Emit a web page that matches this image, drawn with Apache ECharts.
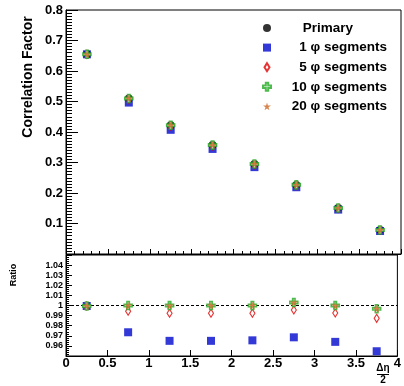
<!DOCTYPE html>
<html>
<head>
<meta charset="utf-8">
<script src="https://cdn.jsdelivr.net/npm/echarts@6/dist/echarts.min.js"></script>
<style>html,body{margin:0;padding:0;background:#fff}#c{width:404px;height:386px}</style>
</head>
<body>
<div id="c"></div>
<script>
const xCenters = [0.25, 0.75, 1.25, 1.75, 2.25, 2.75, 3.25, 3.75];
const primary = [0.655, 0.510, 0.422, 0.357, 0.295, 0.226, 0.151, 0.079];
const seg1 = [0.6547, 0.4965, 0.4072, 0.3445, 0.2848, 0.2189, 0.1456, 0.0754];
const seg5 = [0.6547, 0.5071, 0.4188, 0.3543, 0.2927, 0.2250, 0.1499, 0.0780];
const seg10 = [0.6547, 0.5100, 0.4220, 0.3570, 0.2950, 0.2267, 0.1510, 0.0787];
const seg20 = [0.6547, 0.5100, 0.4220, 0.3570, 0.2950, 0.2267, 0.1510, 0.0787];
const ratio1 = [0.9995, 0.9735, 0.9650, 0.9650, 0.9655, 0.9685, 0.9640, 0.9547];
const ratio5 = [0.9995, 0.9943, 0.9923, 0.9923, 0.9923, 0.9955, 0.9926, 0.9873];
const ratio10 = [0.9995, 1.0000, 1.0000, 1.0000, 1.0000, 1.0030, 1.0000, 0.9968];
const ratio20 = [0.9995, 1.0000, 1.0000, 1.0000, 1.0000, 1.0030, 1.0000, 0.9968];
const seriesNames = ['Primary', '1 φ segments', '5 φ segments', '10 φ segments', '20 φ segments'];
const xTicks = [0, 0.5, 1, 1.5, 2, 2.5, 3, 3.5, 4];

const FONT = 'Liberation Sans, Arial, sans-serif';
const pts = arr => arr.map((v, i) => [xCenters[i], v]);

const STAR = 'path://M50,0L61,35L98,35L68,57L79,91L50,70L21,91L32,57L2,35L39,35Z';
const PLUS = 'path://M35,0H65V35H100V65H65V100H35V65H0V35H35Z';
const DIAM = 'path://M5,0L10,8L5,16L0,8Z';

const styles = [
  {symbol: 'circle', symbolSize: 8, itemStyle: {color: '#000'}},
  {symbol: 'rect', symbolSize: 8, itemStyle: {color: '#0008cc'}},
  {symbol: DIAM, symbolSize: [5, 8], itemStyle: {color: '#fff', borderColor: '#e00000', borderWidth: 1.2}},
  {symbol: PLUS, symbolSize: 8, itemStyle: {color: '#fff', borderColor: '#22aa22', borderWidth: 1.6}},
  {symbol: STAR, symbolSize: 8, itemStyle: {color: '#cc6622'}}
];
const topData = [primary, seg1, seg5, seg10, seg20];
const botData = [null, ratio1, ratio5, ratio10, ratio20];

const series = [];
topData.forEach((d, i) => {
  series.push(Object.assign({
    name: seriesNames[i], type: 'scatter', xAxisIndex: 0, yAxisIndex: 0,
    data: pts(d), z: 3 + i
  }, styles[i]));
});
series.push({
  name: 'ref', type: 'line', xAxisIndex: 1, yAxisIndex: 1, symbol: 'none',
  data: [[xTicks[0], 1], [xTicks[xTicks.length - 1], 1]],
  lineStyle: {color: '#000', width: 1, type: [3, 2]}, z: 2, silent: true
});
botData.forEach((d, i) => {
  if (!d) return;
  series.push(Object.assign({
    name: seriesNames[i], type: 'scatter', xAxisIndex: 1, yAxisIndex: 1,
    data: pts(d), z: 3 + i
  }, styles[i]));
});

const lblBold = {fontFamily: FONT, fontWeight: 'bold', color: '#000'};

const option = {
  animation: false,
  backgroundColor: '#fff',
  grid: [
    {left: 66, top: 10, width: 335, height: 244, show: true, borderColor: '#000', borderWidth: 1, backgroundColor: 'transparent'},
    {left: 66, top: 255, width: 335, height: 101, show: true, borderColor: '#000', borderWidth: 1, backgroundColor: 'transparent'}
  ],
  legend: {
    data: seriesNames,
    orient: 'vertical',
    left: 257, top: 16,
    itemWidth: 8, itemHeight: 8, itemGap: 5.6,
    textStyle: {
      fontFamily: FONT, fontWeight: 'bold', fontSize: 13.5, color: '#000', lineHeight: 14,
      rich: {
        r: {fontFamily: FONT, fontWeight: 'bold', fontSize: 13.5, width: 111, align: 'right', lineHeight: 14},
        s: {width: 26.7, fontSize: 13.5, lineHeight: 14},
        p: {fontFamily: FONT, fontWeight: 'bold', fontSize: 13.5, lineHeight: 14}
      }
    },
    formatter: name => name === 'Primary' ? '{s| }{p|' + name + '}' : '{r|' + name + '}',
    selectedMode: false
  },
  xAxis: [
    {
      type: 'value', gridIndex: 0, min: 0, max: 4, interval: 0.5,
      axisLine: {show: true, lineStyle: {color: '#000'}},
      axisTick: {show: true, inside: true, length: 5, lineStyle: {color: '#000'}},
      minorTick: {show: true, splitNumber: 5, length: 3, lineStyle: {color: '#000'}},
      axisLabel: {show: false},
      splitLine: {show: false}
    },
    {
      type: 'value', gridIndex: 1, min: 0, max: 4, interval: 0.5,
      axisLine: {show: true, lineStyle: {color: '#000'}},
      axisTick: {show: true, inside: true, length: 6, lineStyle: {color: '#000'}},
      axisLabel: Object.assign({fontSize: 13, margin: 1}, lblBold),
      splitLine: {show: false}
    }
  ],
  yAxis: [
    {
      type: 'value', gridIndex: 0, min: 0, max: 0.8, interval: 0.1,
      axisLine: {show: true, lineStyle: {color: '#000'}},
      axisTick: {show: true, inside: true, length: 12, lineStyle: {color: '#000'}},
      minorTick: {show: true, splitNumber: 10, length: 6, lineStyle: {color: '#000'}},
      axisLabel: Object.assign({fontSize: 13, margin: 3, showMinLabel: false}, lblBold),
      splitLine: {show: false}
    },
    {
      type: 'value', gridIndex: 1, min: 0.95, max: 1.05, interval: 0.01,
      axisLine: {show: true, lineStyle: {color: '#000'}},
      axisTick: {show: true, inside: true, length: 6, lineStyle: {color: '#000'}},
      minorTick: {show: true, splitNumber: 5, length: 3, lineStyle: {color: '#000'}},
      axisLabel: Object.assign({fontSize: 9, margin: 3, showMinLabel: false, showMaxLabel: false}, lblBold),
      splitLine: {show: false}
    }
  ],
  graphic: [
    {type: 'text', x: 28, y: 77, rotation: Math.PI / 2,
      style: {text: 'Correlation Factor', fontFamily: FONT, fontWeight: 'bold', fontSize: 14, fill: '#000', align: 'center', verticalAlign: 'middle'}},
    {type: 'text', x: 14, y: 275, rotation: Math.PI / 2,
      style: {text: 'Ratio', fontFamily: FONT, fontWeight: 'bold', fontSize: 9, fill: '#000', align: 'center', verticalAlign: 'middle'}},
    {type: 'text', x: 383, y: 368,
      style: {text: 'Δη', fontFamily: FONT, fontWeight: 'bold', fontSize: 10, fill: '#000', align: 'center', verticalAlign: 'middle'}},
    {type: 'line', shape: {x1: 377, y1: 374.5, x2: 389, y2: 374.5}, style: {stroke: '#000', lineWidth: 1}},
    {type: 'text', x: 383, y: 380.5,
      style: {text: '2', fontFamily: FONT, fontWeight: 'bold', fontSize: 10, fill: '#000', align: 'center', verticalAlign: 'middle'}}
  ],
  series: series
};

const chart = echarts.init(document.getElementById('c'), null, {renderer: 'canvas'});
chart.setOption(option);
</script>
</body>
</html>
